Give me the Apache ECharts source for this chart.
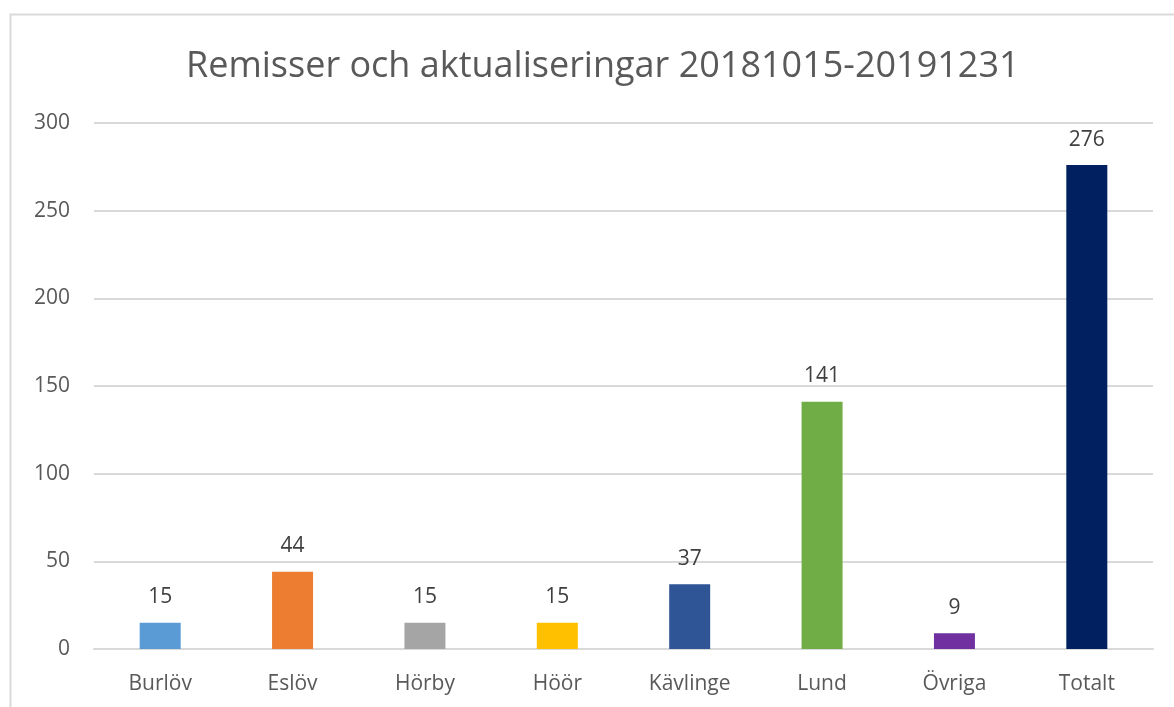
<!DOCTYPE html>
<html>
<head>
<meta charset="utf-8">
<script src="https://cdn.jsdelivr.net/npm/echarts@6/dist/echarts.min.js"></script>
<style>
  html, body { margin: 0; padding: 0; background: #fff; }
  #chart { width: 1174px; height: 707px; }
</style>
</head>
<body>
<div id="chart"></div>
<script>
// data
const categories = ["Burlöv", "Eslöv", "Hörby", "Höör", "Kävlinge", "Lund", "Övriga", "Totalt"];
const values = [15, 44, 15, 15, 37, 141, 9, 276];
const barColors = ["#5b9bd5", "#ed7d31", "#a5a5a5", "#ffc000", "#2f5597", "#70ad47", "#7030a0", "#002060"];
const yTicks = { min: 0, max: 300, interval: 50 };

const chart = echarts.init(document.getElementById("chart"));
const font = "'Open Sans', 'Liberation Sans', sans-serif";

const option = {
  animation: false,
  backgroundColor: "#fff",
  graphic: [
    {
      type: "rect",
      shape: { x: 10.5, y: 14.5, width: 1200, height: 800 },
      style: { fill: "none", stroke: "#d9d9d9", lineWidth: 2 },
      silent: true,
    },
  ],
  title: {
    text: "Remisser och aktualiseringar 20181015-20191231",
    left: 181,
    top: 44,
    textStyle: {
      fontFamily: font,
      fontSize: 36,
      fontWeight: "normal",
      color: "#595959",
    },
  },
  grid: { left: 94, right: 21, top: 123, bottom: 58 },
  xAxis: {
    type: "category",
    data: categories,
    axisLine: { lineStyle: { color: "#d9d9d9", width: 2 } },
    axisTick: { show: false },
    axisLabel: { color: "#595959", fontSize: 21, fontFamily: font, margin: 25 },
  },
  yAxis: {
    type: "value",
    min: yTicks.min,
    max: yTicks.max,
    interval: yTicks.interval,
    axisLine: { show: false },
    axisTick: { show: false },
    splitLine: { lineStyle: { color: "#d9d9d9", width: 2 } },
    axisLabel: { color: "#595959", fontSize: 21, fontFamily: font, margin: 24 },
  },
  series: [
    {
      type: "bar",
      barWidth: 41,
      data: values.map((v, i) => ({ value: v, itemStyle: { color: barColors[i] } })),
      label: {
        show: true,
        position: "top",
        distance: 15,
        color: "#404040",
        fontSize: 21,
        fontFamily: font,
      },
    },
  ],
};
chart.setOption(option);
</script>
</body>
</html>
